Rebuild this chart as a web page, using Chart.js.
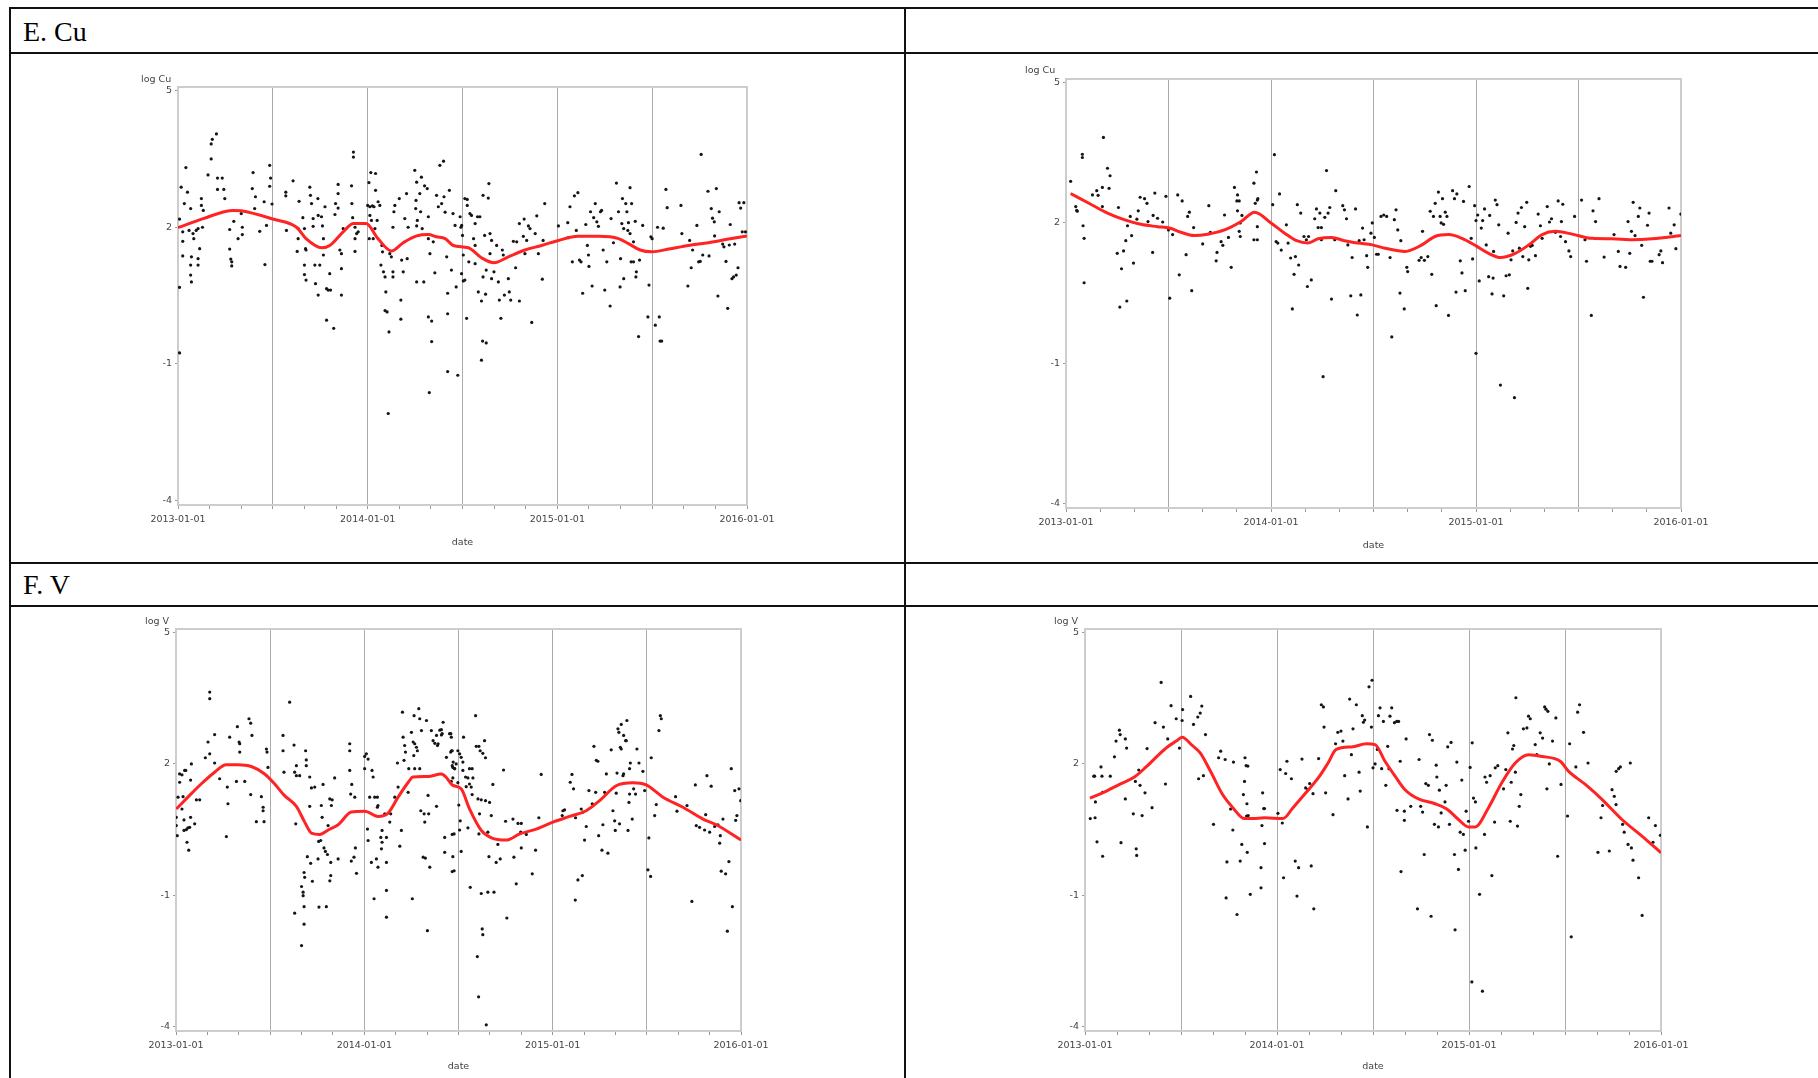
<!DOCTYPE html>
<html>
<head>
<meta charset="utf-8">
<script src="https://cdn.jsdelivr.net/npm/chart.js@4/dist/chart.umd.min.js"></script>
<style>
  body { margin: 0; width: 1818px; height: 1078px; overflow: hidden; position: relative; background: #fff; }
  .rule { position: absolute; background: #111; }
  .head { position: absolute; font-family: "Liberation Serif", serif; font-size: 28px; line-height: 28px; color: #000; }
  .ylab { position: absolute; font-family: "DejaVu Sans", sans-serif; font-size: 9.5px; line-height: 9.5px; color: #444; white-space: nowrap; }
  canvas { position: absolute; }
</style>
</head>
<body>

<div class="rule" style="left:9px; top:7px; width:1809px; height:2px"></div>
<div class="rule" style="left:9px; top:52px; width:1809px; height:2px"></div>
<div class="rule" style="left:9px; top:562px; width:1809px; height:2px"></div>
<div class="rule" style="left:9px; top:605px; width:1809px; height:2px"></div>
<div class="rule" style="left:9px; top:7px; width:2px; height:1071px"></div>
<div class="rule" style="left:904px; top:7px; width:2px; height:1071px"></div>

<div class="head" style="left:23px; top:18px">E. Cu</div>
<div class="head" style="left:23px; top:571px">F. V</div>

<canvas id="cuLeft" width="654" height="471" style="left:133px; top:77px"></canvas>
<canvas id="cuRight" width="700" height="482" style="left:1021px; top:69px"></canvas>
<canvas id="vLeft" width="650" height="453" style="left:131px; top:619px"></canvas>
<canvas id="vRight" width="661" height="453" style="left:1040px; top:619px"></canvas>

<div class="ylab" style="left:141px; top:74px">log Cu</div>
<div class="ylab" style="left:1025px; top:65px">log Cu</div>
<div class="ylab" style="left:145px; top:616px">log V</div>
<div class="ylab" style="left:1054px; top:616px">log V</div>

<script>
// x values are months since 2013-01-01
const yearLabels = ['2013-01-01', '2014-01-01', '2015-01-01', '2016-01-01'];
const monthTicks = [0, 2, 4, 6, 8, 10, 12, 14, 16, 18, 20, 22, 24, 26, 28, 30, 32, 34, 36];
const logTicks = [-4, -1, 2, 5];

// E. Cu, left panel
const cuLeftMonths = [0.2,0.5,0.1,0.4,0.6,0.8,0.3,0.3,0.7,0.95,1.0,0.3,0.85,0.8,0.8,0.85,0.1,0.1,1.15,1.27,1.37,1.27,1.27,1.48,1.48,1.6,1.55,1.9,2.1,2.1,2.17,2.43,2.5,2.5,2.8,2.9,2.96,3.27,3.27,3.34,3.4,3.4,3.53,3.8,4.0,4.07,4.07,4.75,4.7,4.9,4.85,5.17,5.5,5.6,5.45,5.8,5.86,5.8,5.95,6.82,6.82,7.28,6.86,7.6,7.6,7.66,7.54,7.9,8.0,8.07,8.1,8.0,8.0,8.1,8.34,8.38,8.45,8.55,8.55,8.66,8.7,8.85,8.87,8.87,8.97,9.08,9.14,9.2,9.2,9.3,9.4,9.5,9.6,9.65,9.4,9.85,9.93,9.97,10.13,10.13,10.13,10.24,10.34,10.34,10.34,10.45,10.98,11.0,11.05,11.1,11.1,11.2,11.3,11.4,11.2,11.2,12.08,12.2,12.5,12.5,12.0,12.14,12.3,12.4,12.66,12.77,12.14,12.24,12.1,12.35,12.46,12.6,12.9,12.94,12.84,13.0,13.1,13.15,13.1,13.23,13.35,13.3,13.4,13.5,13.6,13.6,13.6,13.72,13.66,14.0,14.15,14.25,14.1,14.1,14.35,14.46,14.5,14.56,14.98,15.1,15.06,15.04,15.14,15.1,15.1,15.3,15.35,15.4,15.45,15.55,15.6,15.77,15.84,15.84,15.94,15.84,16.05,16.05,15.9,16.15,16.25,16.36,16.47,16.57,16.68,16.8,16.83,16.9,17.0,17.06,17.06,17.06,17.17,17.3,17.4,17.53,17.6,17.7,17.85,17.95,18.05,17.9,18.0,18.15,18.3,18.3,18.47,18.57,18.8,18.95,19.1,19.3,19.63,19.67,19.4,19.74,19.84,20.16,18.7,18.8,18.4,17.94,18.15,18.05,18.8,19.0,19.2,19.46,19.3,19.5,19.74,19.84,19.99,20.27,20.33,20.65,20.9,20.96,21.05,18.26,20.43,19.27,19.5,19.2,20.52,20.58,21.22,21.43,21.36,21.6,21.6,21.9,21.95,21.85,22.17,22.27,22.06,22.38,22.6,22.7,22.8,23.05,23.2,23.1,24.07,24.66,24.8,24.7,24.95,25.08,25.3,25.2,25.4,25.5,25.6,25.8,25.9,25.97,26.0,26.1,26.2,26.3,26.4,26.5,26.6,26.73,26.8,26.9,27.0,27.13,27.34,27.4,27.55,27.74,27.87,28.0,27.97,28.12,28.08,28.2,28.2,28.33,28.4,28.46,28.5,28.6,28.7,28.6,28.67,28.82,28.93,28.82,29.0,28.97,29.14,29.2,29.4,29.73,29.8,29.92,30.0,30.2,30.34,30.45,30.5,30.6,30.7,30.87,30.95,31.82,31.88,32.26,32.37,32.47,32.56,32.83,32.94,33.04,33.1,33.2,33.53,33.6,33.74,33.82,33.93,33.95,34.06,34.16,34.24,34.46,34.54,34.67,34.78,34.88,34.94,35.05,35.15,35.22,35.32,35.43,35.5,35.6,35.7,35.8,35.9];
const cuLeftLogs = [2.88,3.31,2.18,2.52,2.77,2.41,1.9,1.69,1.93,1.86,1.75,1.37,1.35,1.17,0.95,0.8,0.68,-0.76,1.93,1.97,1.53,1.31,1.17,2.63,2.48,2.37,2.0,3.15,3.5,3.83,3.93,4.05,3.08,2.83,3.08,2.83,2.63,1.95,1.52,1.3,1.24,1.15,2.13,1.75,2.3,1.84,2.0,3.2,2.85,2.67,2.41,1.91,1.18,2.04,2.56,3.36,3.08,2.9,2.51,2.77,2.69,3.02,1.93,1.97,1.75,2.57,1.47,2.21,1.97,1.53,1.5,1.17,0.96,0.84,2.88,2.7,2.52,2.19,2.02,1.17,0.76,2.63,2.26,0.51,1.17,2.23,2.03,1.75,1.39,2.45,0.65,0.62,0.98,0.62,-0.04,-0.22,2.28,2.52,2.94,2.74,2.42,1.5,1.09,0.51,1.42,1.97,2.91,2.52,2.21,3.65,3.54,2.0,1.86,1.9,1.75,1.47,2.98,3.2,3.18,2.81,2.48,2.45,2.47,2.45,2.56,2.48,2.26,2.15,1.75,1.75,1.97,2.15,1.6,1.46,1.17,1.02,0.91,0.58,0.17,0.14,-0.3,-2.09,1.42,1.35,1.02,0.91,2.0,2.48,2.34,2.63,1.28,1.02,0.4,-0.02,2.19,2.74,1.31,2.0,3.25,2.99,2.59,2.41,2.15,2.03,0.8,2.74,2.34,3.1,1.97,0.8,2.91,2.85,2.23,1.75,1.42,0.03,-0.06,-0.51,-1.63,1.68,1.0,2.7,2.45,3.36,2.52,3.45,2.67,2.33,1.35,0.55,0.1,-1.17,2.81,1.06,2.3,2.04,0.69,-1.25,2.23,2.04,0.82,2.0,1.82,2.63,2.48,2.61,2.3,2.26,2.08,2.23,2.23,2.7,2.64,2.96,1.82,1.86,1.71,1.6,1.75,1.6,1.24,0.98,0.84,1.39,1.2,0.58,0.38,0.53,0.91,1.06,1.42,0.87,1.02,0.8,0.4,0.51,0.87,0.58,0.4,0.0,0.0,-0.5,-0.54,-0.92,1.5,1.39,1.69,1.68,1.11,0.38,2.08,2.18,1.42,1.8,2.03,1.97,1.71,-0.09,1.86,2.25,1.42,0.86,2.52,1.71,2.03,2.1,2.45,1.77,1.24,2.69,2.76,1.93,1.28,1.24,0.55,2.06,1.6,1.39,1.14,2.34,0.71,2.21,2.52,2.12,2.02,2.34,2.37,1.5,0.62,1.24,0.27,2.19,1.66,2.97,2.34,1.31,0.69,2.63,2.08,1.97,0.87,2.52,2.34,1.93,2.1,2.87,2.52,1.86,1.24,1.24,2.13,1.68,1.02,0.91,-0.4,1.28,2.04,0.03,0.73,1.79,1.75,-0.15,2.0,0.03,-0.5,-0.5,1.98,2.83,2.43,2.48,1.86,0.71,1.71,1.11,1.5,2.04,1.24,1.25,3.6,1.39,2.79,1.37,2.41,2.2,2.12,1.81,2.85,0.49,2.34,1.63,1.57,1.25,0.22,1.61,2.06,0.87,0.91,1.63,0.95,1.11,2.54,2.42,1.9,2.54,1.9];
const cuLeftFitMonths = [0,1.6,3.5,4.0,6.0,7.5,8.1,9.1,9.6,10.45,11.1,11.9,12.65,13.5,14.25,15.1,15.84,16.36,16.9,17.42,18.37,19.2,20.0,20.9,21.95,23.0,24.07,25.3,26.6,27.87,28.5,29.24,29.98,31.04,32.3,33.57,34.84,36];
const cuLeftFitLogs = [1.99,2.19,2.37,2.36,2.18,2.0,1.75,1.55,1.6,1.9,2.08,2.08,1.75,1.48,1.66,1.81,1.84,1.79,1.75,1.6,1.55,1.33,1.22,1.35,1.5,1.6,1.71,1.8,1.8,1.75,1.64,1.5,1.46,1.52,1.6,1.66,1.74,1.81];

// E. Cu, right panel
const cuRightMonths = [0.27,0.57,0.63,0.66,0.96,0.96,1.0,1.06,1.06,1.55,1.8,1.88,2.13,2.19,2.13,2.43,2.52,2.58,3.0,3.07,3.25,3.15,3.37,3.5,3.56,3.6,3.76,3.84,3.95,4.15,4.23,4.34,4.6,4.74,4.8,5.07,5.1,5.2,5.36,5.66,5.85,6.0,6.07,6.24,6.54,6.63,6.8,7.03,7.12,7.22,7.36,7.47,8.0,8.36,8.45,8.79,8.84,9.08,9.18,9.28,9.51,9.67,9.86,10.0,10.04,10.14,10.04,10.14,10.2,10.2,10.3,11.0,11.15,11.08,11.2,11.23,11.0,11.2,11.2,12.1,12.2,12.3,12.4,12.5,12.6,12.9,13.0,13.15,13.25,13.35,13.43,13.54,13.62,13.74,13.93,14.07,14.13,14.2,14.36,14.56,14.66,14.76,14.86,14.95,14.95,15.05,15.15,15.25,15.34,15.44,15.54,15.73,15.79,16.2,16.3,16.42,16.5,16.67,16.75,16.95,17.05,17.16,17.26,17.36,17.45,17.6,17.66,17.85,17.93,18.05,18.18,18.28,18.44,18.6,18.77,18.97,19.07,19.22,19.32,19.42,19.55,19.6,19.8,19.95,20.0,20.67,20.79,20.87,20.98,21.18,21.32,21.41,21.51,21.61,21.67,21.8,21.9,21.96,22.04,22.1,22.2,22.3,22.39,22.63,22.74,22.83,22.88,23.08,23.18,23.27,23.37,23.6,23.72,23.8,23.92,24.0,24.0,24.1,24.19,24.31,24.39,24.5,24.6,24.74,24.8,25.0,24.94,25.03,25.13,25.23,25.33,25.43,25.62,25.76,25.88,25.95,26.05,26.15,26.25,26.35,26.46,26.54,26.66,26.74,26.85,26.97,27.03,27.09,27.19,27.29,27.48,27.64,27.77,27.87,28.17,28.3,28.42,28.65,28.81,28.95,29.0,29.08,29.24,29.44,29.54,29.77,30.18,30.38,30.47,30.75,30.85,31.0,31.2,31.5,32.08,32.33,32.43,32.76,32.9,33.0,33.1,33.2,33.31,33.5,33.59,33.7,33.8,34.04,34.13,34.2,34.3,34.72,34.82,34.92,35.3,35.4,35.6,35.7,35.99];
const cuRightLogs = [2.89,2.35,2.27,2.25,3.47,3.4,1.94,1.67,0.72,2.6,2.69,2.59,2.76,3.83,2.35,3.17,2.74,3.01,1.35,2.33,1.02,0.2,1.4,1.62,0.33,1.94,2.14,1.73,1.14,2.08,2.26,2.55,2.52,2.42,2.03,1.37,2.16,2.64,2.1,2.02,2.57,1.85,0.39,1.75,2.6,0.89,2.47,1.32,2.14,2.23,0.55,1.9,1.55,2.37,1.8,1.19,1.37,1.6,1.52,2.17,1.69,1.05,2.76,2.47,2.6,2.47,2.26,1.82,1.71,2.0,2.16,2.85,3.09,2.42,2.49,2.52,1.64,1.64,1.92,2.39,3.46,1.6,1.57,2.62,1.42,1.96,1.57,1.25,0.16,0.9,1.28,2.39,1.1,2.21,1.71,1.64,0.64,1.71,0.78,2.09,2.3,1.9,2.21,1.9,1.64,-1.29,2.12,3.12,2.21,2.33,0.37,1.64,2.69,2.37,2.28,2.09,1.53,0.44,1.26,2.3,0.03,1.62,0.46,1.89,1.64,1.3,1.05,1.78,2.0,1.69,1.33,1.33,2.14,2.17,2.14,1.26,-0.44,2.07,2.28,1.85,0.5,1.62,0.16,1.05,0.96,1.2,1.26,1.82,1.2,1.28,2.25,0.9,2.14,2.42,0.23,2.66,2.14,2.0,2.52,1.97,2.23,2.14,0.02,2.69,2.52,0.52,2.62,1.19,0.93,2.46,0.55,2.78,1.67,1.23,2.37,2.05,-0.79,2.17,0.76,1.89,2.05,2.3,1.53,0.85,2.16,0.82,0.48,1.39,2.49,2.39,1.96,-1.47,0.44,0.87,1.78,0.89,1.21,1.4,-1.74,2.01,2.21,1.46,2.33,1.28,1.92,2.44,0.6,1.21,1.5,1.52,1.3,2.19,1.94,1.67,2.35,2.02,2.09,1.8,2.47,1.71,2.03,2.4,1.6,1.4,1.28,2.14,2.49,1.64,1.18,0.02,2.26,2.03,2.52,1.27,1.75,1.39,1.07,1.05,2.03,1.35,1.82,2.44,1.73,2.14,2.32,1.52,0.41,1.95,2.21,1.18,1.18,1.32,1.4,1.15,2.32,1.78,1.96,1.45,2.19];
const cuRightFitMonths = [0.27,1.45,2.43,3.4,4.38,5.36,6.05,6.73,7.5,8.3,9.28,10.25,11.04,12.0,12.8,13.5,14.17,14.76,15.54,16.3,17.1,17.93,18.67,19.85,20.83,21.6,22.4,23.18,24.0,24.74,25.43,26.3,27.09,27.87,28.65,29.63,30.8,31.98,33.16,34.33,36];
const cuRightFitLogs = [2.63,2.4,2.21,2.07,1.97,1.92,1.89,1.8,1.73,1.76,1.85,2.03,2.23,2.0,1.78,1.62,1.57,1.66,1.69,1.62,1.57,1.53,1.46,1.39,1.53,1.71,1.75,1.67,1.51,1.35,1.26,1.35,1.53,1.75,1.82,1.76,1.67,1.66,1.64,1.66,1.73];

// F. V, left panel
const vLeftMonths = [0.02,0.02,0.08,0.13,0.23,0.23,0.38,0.45,0.38,0.55,0.62,0.51,0.51,0.66,0.76,0.87,0.7,0.81,0.93,0.98,0.93,1.19,1.3,1.51,1.87,2.04,2.15,2.15,2.15,2.46,2.46,2.78,3.21,3.27,3.31,3.42,3.85,3.91,4.02,4.06,4.06,4.38,4.65,4.76,4.84,4.76,5.12,5.44,5.55,5.55,5.61,5.76,5.8,5.86,6.82,6.82,6.88,7.24,7.52,7.56,7.67,7.67,7.63,7.56,8.0,7.88,8.16,8.2,8.0,8.1,8.1,8.16,8.16,8.26,8.3,8.3,8.37,8.52,8.63,8.84,8.52,8.58,8.69,9.05,9.09,9.11,9.22,9.26,9.31,9.37,9.43,9.52,9.65,9.58,9.69,9.8,9.9,9.95,9.8,9.86,9.86,10.11,10.33,11.07,11.07,11.07,11.13,11.17,11.2,11.34,11.39,11.43,11.5,12.02,12.02,12.13,12.24,12.2,12.24,12.34,12.45,12.49,12.56,12.62,12.66,12.83,12.83,12.87,12.77,12.87,13.05,13.13,13.13,13.09,13.3,13.41,13.41,13.41,13.41,13.62,13.68,13.94,14.11,14.15,14.26,14.36,14.43,14.47,14.53,14.57,14.62,14.79,14.83,15.0,15.11,15.15,15.21,15.17,15.21,15.06,15.32,15.38,15.47,15.53,15.53,15.6,15.64,15.81,15.85,15.75,15.89,15.96,16.06,16.1,16.02,16.17,16.27,16.38,16.49,16.6,16.66,16.7,16.6,16.81,16.91,16.91,16.96,17.02,17.12,17.12,17.23,17.51,17.55,17.66,17.72,17.72,17.76,17.43,17.54,17.5,17.6,17.6,17.64,17.75,17.85,17.96,18.07,18.17,18.28,18.28,17.54,17.64,17.96,18.02,18.11,18.07,17.6,17.64,17.6,18.17,18.32,18.45,18.49,18.6,18.7,18.7,18.81,18.87,18.6,18.75,18.87,18.92,19.09,19.13,19.3,19.38,19.55,19.24,19.45,19.3,19.34,19.45,19.51,19.55,19.2,19.28,19.77,19.66,19.72,19.72,19.87,19.94,19.87,19.98,20.09,20.19,20.26,20.51,20.4,20.66,20.87,21.0,21.08,21.47,21.53,21.68,21.79,22.0,21.96,22.0,22.32,22.7,22.91,23.12,23.27,24.61,24.65,24.76,25.12,25.23,25.33,25.44,25.61,25.46,25.89,25.82,25.93,26.03,26.14,26.31,26.52,26.63,26.74,26.78,26.88,26.93,27.14,27.2,27.31,27.42,27.52,27.73,27.84,27.95,27.99,28.05,28.1,28.16,28.22,28.26,28.31,28.37,28.37,28.48,28.52,28.52,28.65,28.69,28.73,28.8,28.86,28.9,28.9,29.07,28.95,29.16,29.28,29.37,29.5,29.75,29.86,30.13,30.07,30.24,30.28,30.5,30.6,30.77,30.86,30.92,31.83,31.92,32.56,32.87,33.09,33.15,33.36,33.68,33.75,33.83,34.0,34.1,34.32,34.53,34.64,34.68,34.74,34.85,35.02,35.13,35.23,35.38,35.45,35.6,35.66,35.74,35.87,35.98];
const vLeftLogs = [0.78,0.59,0.36,1.24,1.58,1.77,1.75,1.25,0.97,1.85,1.85,0.72,0.48,0.5,0.54,0.55,0.21,0.03,1.63,2.0,0.78,0.63,1.18,1.18,2.14,2.5,2.23,3.64,3.49,2.67,2.02,1.66,0.34,1.47,1.09,2.61,1.6,2.85,2.5,2.46,2.27,1.6,3.03,2.93,2.65,1.3,0.68,1.25,1.01,0.93,0.68,2.34,2.27,1.92,2.65,2.3,1.81,3.41,2.43,1.81,1.96,1.73,0.63,-1.41,-2.15,1.73,-0.48,-0.59,-0.8,-0.93,-1.01,-1.26,-1.66,2.3,2.09,1.96,-0.12,1.7,1.45,1.47,1.03,-0.27,-0.68,-0.17,0.23,-1.27,0.25,1.05,0.78,1.53,0.08,0.0,-0.07,-1.26,0.59,1.2,1.05,1.18,-0.67,-0.55,-0.25,1.68,-0.17,2.46,2.3,1.85,1.31,-0.22,1.53,-0.13,1.24,0.08,-0.5,2.17,1.89,2.23,2.11,0.51,0.25,1.24,-0.25,1.85,1.7,-1.08,1.24,1.24,1.01,1.05,-0.17,-0.36,0.32,0.48,0.21,0.06,0.86,0.32,-0.25,-0.89,-1.5,0.67,0.86,1.24,2.02,1.47,0.12,0.48,3.18,2.61,2.08,2.42,2.27,1.35,1.89,2.72,2.5,2.19,1.89,3.1,2.46,-1.08,2.38,2.3,3.26,3.03,1.89,0.93,2.76,0.86,0.67,-0.13,-0.15,2.99,1.28,0.86,-1.81,-0.36,2.76,2.53,2.47,2.65,2.42,2.46,1.03,2.77,2.78,2.66,2.69,2.95,0.32,-0.02,2.15,2.69,2.3,2.04,0.4,-0.44,1.89,2.69,2.61,2.27,2.3,1.96,1.92,1.89,2.0,2.3,2.23,2.15,2.04,1.85,1.6,1.68,1.57,1.06,0.7,0.49,0.39,-0.12,-0.46,0.0,2.61,1.7,1.48,1.68,1.89,1.54,1.47,1.3,0.54,-0.82,1.89,1.68,3.1,2.4,2.4,2.3,2.24,1.2,1.18,0.4,0.86,-0.96,-1.77,-1.9,-2.4,-3.32,-3.96,2.53,2.14,1.16,0.44,-0.12,-0.93,1.12,0.82,1.53,-0.93,0.16,-0.25,-0.17,1.86,0.69,-1.52,0.74,-0.13,-0.74,0.64,0.64,0.44,0.08,0.39,-0.51,0.03,0.77,1.76,0.82,0.93,0.95,1.58,1.76,1.43,-1.11,-0.65,0.77,-0.55,0.97,0.9,0.26,0.57,1.39,1.09,2.4,1.35,2.08,2.06,0.36,0.03,0.61,1.35,1.77,-0.04,2.32,0.93,0.7,0.48,1.33,1.79,2.8,2.72,0.63,2.38,2.34,2.9,1.73,1.77,2.65,2.53,2.53,2.99,0.48,1.12,1.31,1.89,0.74,2.02,1.43,1.31,2.34,2.02,1.83,1.39,0.31,-0.42,-0.57,2.14,0.82,1.07,2.76,3.1,3.03,1.25,0.92,1.05,-1.14,1.52,0.59,0.55,0.49,0.84,1.73,0.44,1.49,0.57,0.61,0.19,0.36,-0.45,0.74,-0.51,-1.82,-0.23,1.89,-1.26,1.39,0.71,0.82,1.43,1.16];
const vLeftFitMonths = [0.02,0.76,1.6,2.46,3.2,3.95,4.8,5.65,6.29,6.9,7.67,8.2,8.63,9.16,9.7,10.33,11.17,12.02,12.87,13.5,14.15,14.8,15.1,16.06,16.9,17.2,17.6,18.17,18.7,19.45,20.1,21.04,21.9,22.95,24.02,25.08,26.14,26.99,28.05,29.11,29.96,31.03,32.3,33.58,34.43,36];
const vLeftFitLogs = [0.97,1.24,1.54,1.81,1.98,1.98,1.94,1.77,1.54,1.28,1.03,0.67,0.42,0.39,0.49,0.61,0.9,0.92,0.8,0.87,1.24,1.58,1.7,1.71,1.77,1.7,1.52,1.43,0.97,0.48,0.31,0.26,0.4,0.51,0.67,0.8,0.93,1.16,1.5,1.57,1.52,1.24,1.01,0.74,0.61,0.26];

// F. V, right panel
const vRightMonths = [0.33,0.63,0.55,0.6,0.65,0.75,1.0,1.06,1.1,1.1,1.58,1.84,1.94,2.15,2.2,2.25,2.52,2.52,2.6,3.02,3.15,3.2,3.23,3.36,3.44,3.57,3.75,3.88,4.19,4.38,4.76,4.9,5.03,5.17,5.38,5.7,5.9,6.1,6.07,6.6,6.78,7.05,7.2,7.3,7.1,7.4,7.53,8.03,8.35,8.48,8.76,8.82,8.87,9.1,9.24,9.28,9.5,9.7,9.8,9.9,10.0,10.07,10.18,9.97,10.14,10.12,10.2,10.1,10.33,11.0,11.0,11.06,11.1,11.17,11.22,11.22,12.06,12.2,12.33,12.41,12.54,12.62,12.9,13.14,13.25,13.35,13.56,13.79,13.93,14.04,14.14,14.25,14.3,14.6,14.77,14.9,14.94,15.04,15.5,15.66,15.8,16.0,16.12,16.23,16.44,16.54,16.65,16.75,16.96,17.13,17.2,17.33,17.4,17.48,17.65,17.75,17.9,17.94,18.0,18.13,18.27,18.34,18.44,18.54,18.65,18.8,18.92,19.0,19.06,19.17,19.34,19.48,19.6,19.5,19.7,19.75,19.96,19.96,20.07,20.36,20.78,20.88,20.98,21.1,21.2,21.3,21.46,21.53,21.71,21.63,21.84,22.09,21.95,21.99,22.15,22.26,22.5,22.57,22.67,22.88,22.78,23.09,23.13,23.24,23.34,23.45,23.65,23.55,23.76,23.82,23.97,24.07,24.18,24.2,24.28,24.4,24.43,24.66,24.84,24.97,25.0,25.1,25.32,25.43,25.6,25.64,25.8,26.16,26.3,26.43,26.58,26.64,26.72,26.8,26.9,26.93,27.03,27.14,27.24,27.4,27.62,27.72,27.83,28.14,28.24,28.45,28.6,28.73,28.81,28.93,28.87,29.02,29.22,29.43,29.54,29.75,30.16,30.29,30.39,30.68,30.79,30.91,31.16,31.44,32.06,32.25,32.35,32.77,32.94,33.08,33.19,33.2,33.35,33.46,33.6,33.7,33.94,34.08,34.15,34.25,34.6,34.82,35.23,35.5,35.65,35.96];
const vRightLogs = [0.75,0.77,1.72,1.72,1.13,0.22,1.93,1.72,-0.11,1.35,1.72,2.16,2.52,2.77,2.67,0.2,2.57,1.2,2.36,0.86,1.6,0.06,-0.09,1.86,1.51,0.82,1.34,2.35,1.0,2.94,3.86,2.84,1.54,2.57,3.33,3.03,2.36,3.24,2.99,3.54,2.9,3.07,3.16,3.32,1.66,1.73,2.67,0.62,2.14,2.29,2.1,-1.06,-0.24,0.97,0.49,2.04,-1.44,-0.22,0.16,1.3,2.14,1.96,1.95,1.6,-0.02,1.09,0.82,0.81,-0.98,-0.37,-0.83,0.59,1.34,0.98,0.98,0.18,0.87,1.87,0.65,-0.6,1.78,2.06,1.66,-0.22,-1.02,-0.37,2.11,1.45,1.41,1.55,-0.33,1.32,-1.31,2.12,3.35,3.3,2.84,1.34,0.84,2.46,2.72,2.75,2.52,1.73,1.2,3.48,2.21,2.8,3.35,1.81,1.38,3.1,2.95,3.0,0.56,3.76,2.84,3.91,1.91,2.0,2.33,3.1,3.28,1.89,2.97,1.51,2.4,1.89,3.09,3.28,2.94,2.97,2.97,0.94,2.06,-0.46,0.92,0.71,2.57,1.03,-1.31,2.1,1.03,0.9,-0.07,1.55,1.51,2.67,2.54,-1.48,0.62,0.56,1.97,1.7,1.4,0.88,1.13,1.51,2.39,2.49,0.62,-0.07,-1.79,2.04,-0.41,0.44,0.39,1.63,0.03,0.92,0.69,1.92,-2.98,2.48,1.22,1.13,0.08,-0.98,-3.19,0.39,1.7,1.58,1.73,-0.55,0.67,1.91,1.96,1.43,1.87,2.71,0.69,1.58,2.34,2.42,1.81,3.51,0.58,1.03,1.3,2.8,2.82,3.09,3.03,2.44,2.21,2.71,2.59,3.3,3.25,3.2,1.43,2.0,2.52,3.05,-0.11,1.53,0.81,2.46,-1.95,1.93,3.18,3.35,2.72,2.02,-0.02,0.77,1.05,0.01,1.41,1.26,1.07,1.83,1.89,1.93,0.62,0.44,0.16,2.02,0.08,-0.2,-0.6,-1.46,0.77,0.21,0.59,0.37];
const vRightFitMonths = [0.31,1.1,2.25,3.09,3.82,4.55,5.17,5.7,6.07,6.7,7.2,7.9,8.6,9.24,9.97,10.5,11.2,12.37,13.0,13.83,14.66,15.19,15.7,16.75,17.58,18.13,18.75,19.38,20.0,20.84,21.88,22.61,23.34,23.97,24.38,25.22,26.05,26.89,27.72,28.56,29.7,30.23,31.27,32.31,33.56,34.81,36];
const vRightFitLogs = [1.22,1.34,1.55,1.7,1.93,2.19,2.39,2.52,2.61,2.42,2.25,1.79,1.3,1.0,0.75,0.75,0.77,0.75,1.0,1.35,1.72,2.02,2.33,2.39,2.46,2.44,2.06,1.72,1.41,1.2,1.09,0.97,0.73,0.56,0.56,1.0,1.57,2.02,2.21,2.17,2.06,1.83,1.53,1.19,0.73,0.35,-0.03];

const axisFont = { family: 'DejaVu Sans', size: 9.5 };

// light grey box round the plot area
const frame = {
    id: 'frame',
    beforeDatasetsDraw(chart) {
        const { ctx, chartArea: a } = chart;
        ctx.save();
        ctx.strokeStyle = '#cdcdcd';
        ctx.lineWidth = 2;
        ctx.strokeRect(a.left, a.top, a.right - a.left, a.bottom - a.top);
        ctx.restore();
    }
};

function panel(id, months, logs, fitMonths, fitLogs, xAxisHeight) {
    const points = months.map((m, i) => ({ x: m, y: logs[i] }));
    const fit = fitMonths.map((m, i) => ({ x: m, y: fitLogs[i] }));

    new Chart(document.getElementById(id), {
        type: 'scatter',
        data: {
            datasets: [
                {
                    type: 'line',
                    data: fit,
                    borderColor: '#ff2323',
                    borderWidth: 3,
                    pointRadius: 0,
                    cubicInterpolationMode: 'monotone',
                    order: 0
                },
                {
                    data: points,
                    backgroundColor: '#151515',
                    borderWidth: 0,
                    pointRadius: 1.6,
                    order: 1
                }
            ]
        },
        options: {
            responsive: false,
            animation: false,
            devicePixelRatio: 1,
            layout: { padding: { top: 10, right: 40, left: 0, bottom: 0 } },
            plugins: { legend: { display: false }, tooltip: { enabled: false } },
            scales: {
                x: {
                    type: 'linear',
                    min: 0,
                    max: 36,
                    afterBuildTicks: s => { s.ticks = monthTicks.map(v => ({ value: v })); },
                    afterFit: s => { s.height = xAxisHeight; },
                    border: { display: false },
                    grid: {
                        color: c => (c.tick && c.tick.value % 6 === 0 && c.tick.value > 0 && c.tick.value < 36) ? '#aaaaaa' : 'rgba(0,0,0,0)',
                        tickColor: '#9a9a9a',
                        tickLength: 4
                    },
                    ticks: {
                        autoSkip: false,
                        maxRotation: 0,
                        padding: 5,
                        color: '#444',
                        font: axisFont,
                        callback: v => v % 12 === 0 ? yearLabels[v / 12] : ''
                    },
                    title: { display: true, text: 'date', color: '#444', font: axisFont, padding: 0 }
                },
                y: {
                    min: -4.1,
                    max: 5.08,
                    afterBuildTicks: s => { s.ticks = logTicks.map(v => ({ value: v })); },
                    afterFit: s => { s.width = 45; },
                    border: { display: false },
                    grid: { color: 'rgba(0,0,0,0)', tickColor: '#9a9a9a', tickLength: 3 },
                    ticks: { padding: 3, color: '#444', font: axisFont }
                }
            }
        },
        plugins: [frame]
    });
}

panel('cuLeft', cuLeftMonths, cuLeftLogs, cuLeftFitMonths, cuLeftFitLogs, 43);
panel('cuRight', cuRightMonths, cuRightLogs, cuRightFitMonths, cuRightFitLogs, 43);
panel('vLeft', vLeftMonths, vLeftLogs, vLeftFitMonths, vLeftFitLogs, 41);
panel('vRight', vRightMonths, vRightLogs, vRightFitMonths, vRightFitLogs, 41);
</script>
</body>
</html>
